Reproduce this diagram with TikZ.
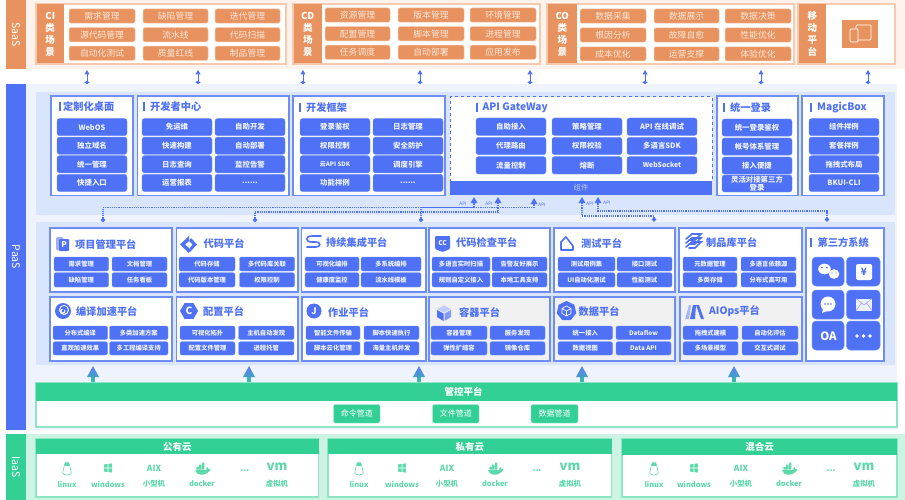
\documentclass[tikz,border=0pt]{standalone}
\usepackage{fontspec}
\setmainfont{Noto Sans CJK SC}
\usetikzlibrary{arrows.meta,shapes.geometric,calc}
\definecolor{org}{HTML}{E8935F}
\definecolor{orgl}{HTML}{F7C9AE}
\definecolor{orgbg}{HTML}{FDF2EC}
\definecolor{blu}{HTML}{4F71F5}
\definecolor{blul}{HTML}{6E8EF5}
\definecolor{blubg}{HTML}{EFF3FD}
\definecolor{blupanel}{HTML}{D8E5FD}
\definecolor{grn}{HTML}{33D095}
\definecolor{grnl}{HTML}{8CE6C5}
\definecolor{grnbg}{HTML}{CDF3E3}
\definecolor{grntx}{HTML}{5ED9AB}
\definecolor{graycard}{HTML}{F1F1F1}
\definecolor{txw}{HTML}{FBE6D8}
\definecolor{txb}{HTML}{EEF2FF}
\newcounter{nid}
\newcommand{\sixdots}{{.}{.}{.}{.}{.}{.}}
\newcommand{\pl}[6]{\stepcounter{nid}\node[#1,minimum width={(#3-#2)*1pt},minimum height={(#5-#4)*1pt}] (n\arabic{nid}) at ({(#2+#3)/2},{(#4+#5)/2}) {#6};}
\newcommand{\tx}[4]{\stepcounter{nid}\node[#1] (n\arabic{nid}) at (#2,#3) {#4};}
\newcommand{\ttl}[4]{\fill[blu] (#1,#2-4.5) rectangle ++(2.2,9);\tx{ttlsty}{#1+#4}{#2}{#3}}
\newcommand{\ctl}[3]{\tx{ttlsty}{#1}{#2}{#3}}
\tikzset{
 opill/.style={fill=org,draw=orgl,line width=.5pt,rounded corners=2pt,inner sep=0pt,outer sep=0pt,text=txw,font=\fontsize{8.8}{10}\selectfont},
 bpill/.style={fill=blu,draw=blul,line width=.4pt,rounded corners=2.5pt,inner sep=0pt,outer sep=0pt,text=txb,font=\bfseries\fontsize{7.4}{8.2}\selectfont},
 spill/.style={fill=blu,draw=blul,line width=.4pt,rounded corners=2pt,inner sep=0pt,outer sep=0pt,text=txb,font=\bfseries\fontsize{6.3}{8}\selectfont},
 gpill/.style={fill=grn,draw=grnl,line width=.4pt,rounded corners=2pt,inner sep=0pt,outer sep=0pt,text=white,font=\fontsize{8}{9}\selectfont},
 ipill/.style={fill=blu,draw=blul,line width=.5pt,rounded corners=4pt,inner sep=0pt,outer sep=0pt},
 ocard/.style={fill=white,draw=orgl,line width=1.1pt,inner sep=0pt,outer sep=0pt},
 ohead/.style={fill=org,inner sep=0pt,outer sep=0pt,text=white,align=center,font=\bfseries\fontsize{9.5}{12}\selectfont},
 bcard/.style={fill=white,draw=blul,line width=1.1pt,inner sep=0pt,outer sep=0pt},
 gycard/.style={fill=graycard,draw=blul,line width=1.1pt,inner sep=0pt,outer sep=0pt},
 dcard/.style={fill=white,draw=blu,line width=1pt,dashed,inner sep=0pt,outer sep=0pt},
 barb/.style={fill=blu,inner sep=0pt,outer sep=0pt,text=txb!70!blu,font=\fontsize{7.5}{9}\selectfont},
 sidebar/.style={inner sep=0pt,outer sep=0pt,text=white,font=\fontsize{10.5}{12}\selectfont},
 ttlsty/.style={anchor=west,inner sep=0pt,text=blu,font=\bfseries\fontsize{10.2}{12}\selectfont},
 grect/.style={fill=white,draw=grnl,line width=1.1pt,inner sep=0pt,outer sep=0pt},
 ghead/.style={fill=grn,inner sep=0pt,outer sep=0pt,text=white,font=\bfseries\fontsize{9.5}{11}\selectfont},
 itxt/.style={inner sep=0pt,text=grntx,font=\bfseries\fontsize{7.4}{9}\selectfont},
 iic/.style={inner sep=0pt,text=grntx,font=\bfseries\fontsize{8.5}{9}\selectfont},
 dblarrow/.style={draw=blu,line width=1pt,{Circle[length=3.2pt,width=4.4pt]}-{Triangle[length=4.5pt,width=5pt]}},
 dotarrow/.style={draw=blu,line width=1.4pt,dash pattern=on 1.2pt off 1pt,{Circle[length=4.2pt,width=4.2pt]}-{Triangle[length=6pt,width=6.5pt]}},
 apil/.style={inner sep=0pt,text=blu,font=\fontsize{4.6}{5}\selectfont},
}
\newcommand{\lnx}[1]{\filldraw[fill=white,draw=grntx,line width=.6pt] (#1,462) .. controls (#1+3,462) and (#1+2.5,467) .. (#1+4,471) .. controls (#1+6.5,476.5) and (#1-6.5,476.5) .. (#1-4,471) .. controls (#1-2.5,467) and (#1-3,462) .. cycle;\fill[grntx] (#1-1.6,462.5) rectangle (#1+1.6,465.5);}
\newcommand{\wnd}[1]{\fill[grntx] (#1-3.8,464.5) -- (#1-.4,464) -- (#1-.4,467.6) -- (#1-3.8,467.6) -- cycle (#1+.4,463.9) -- (#1+3.8,463.4) -- (#1+3.8,467.6) -- (#1+.4,467.6) -- cycle (#1-3.8,468.4) -- (#1-.4,468.4) -- (#1-.4,472) -- (#1-3.8,471.5) -- cycle (#1+.4,468.4) -- (#1+3.8,468.4) -- (#1+3.8,472.6) -- (#1+.4,472.1) -- cycle;}
\newcommand{\dck}[1]{\fill[grntx] (#1-7,470) .. controls (#1-6,476) and (#1+3,476.5) .. (#1+8,470.5) .. controls (#1+9,470) and (#1+8.5,468.5) .. (#1+6.5,468.9) .. controls (#1+6,467.5) and (#1+5.5,467) .. (#1+4.8,467.1) -- (#1+4.2,470) -- cycle;\fill[grntx] (#1-5.6,467.1) rectangle ++(2.4,2.4) (#1-2.8,467.1) rectangle ++(2.4,2.4) (#1,467.1) rectangle ++(2.4,2.4) (#1-2.8,464.5) rectangle ++(2.4,2.4) (#1,464.5) rectangle ++(2.4,2.4) (#1,462.5) rectangle ++(2.4,1.8);}
\newcommand{\cloud}[6]{%
 \lnx{#1}\wnd{#2}\dck{#4}
 \tx{itxt}{#1}{484}{linux}\tx{itxt}{#2}{484}{windows}
 \tx{iic}{#3}{468.5}{AIX}\tx{itxt}{#3}{484}{小型机}
 \tx{itxt}{#4}{484}{docker}
 \tx{iic}{#5}{471}{...}
 \tx{iic}{#6}{467}{\fontsize{13}{13}\selectfont vm}\tx{itxt}{#6}{484}{虚拟机}}
\newcommand{\frow}[8]{\pl{spill}{#1}{#2}{257}{271}{#5}\pl{spill}{#3}{#4}{257}{271}{#6}\pl{spill}{#1}{#2}{272.7}{287}{#7}\pl{spill}{#3}{#4}{272.7}{287}{#8}}
\newcommand{\srow}[8]{\pl{spill}{#1}{#2}{326}{339.5}{#5}\pl{spill}{#3}{#4}{326}{339.5}{#6}\pl{spill}{#1}{#2}{341.7}{355}{#7}\pl{spill}{#3}{#4}{341.7}{355}{#8}}
\begin{document}
\begin{tikzpicture}[x=1pt,y=-1pt]
\useasboundingbox (0,0) rectangle (905,500);
\fill[white] (0,0) rectangle (905,500);
%% bands
\fill[orgbg] (26,0) rectangle (905,69);
\fill[blubg] (26,84) rectangle (897,430);
\fill[grnbg] (26,434) rectangle (905,500);
\pl{sidebar,fill=org}{6}{26}{0}{69}{\rotatebox{-90}{SaaS}}
\pl{sidebar,fill=blu}{6}{26}{84}{430}{\rotatebox{-90}{PaaS}}
\pl{sidebar,fill=grn}{6}{26}{434}{500}{\rotatebox{-90}{IaaS}}
\fill[blupanel] (36,92) rectangle (895,215);
\fill[blupanel] (36,222) rectangle (895,365);
%% SaaS cards
\pl{ocard}{36}{286}{4}{64}{}
\pl{ohead}{36.5}{64}{4.5}{63.5}{CI\\类\\场\\景}
\foreach \a/\b/\c [count=\i] in {需求管理/缺陷管理/迭代管理,源代码管理/流水线/代码扫描,自动化测试/质量红线/制品管理}{
 \pgfmathsetmacro\yy{9+(\i-1)*18.6}
 \pl{opill}{69}{135}{\yy}{\yy+14.2}{\a}\pl{opill}{143}{208}{\yy}{\yy+14.2}{\b}\pl{opill}{215}{280}{\yy}{\yy+14.2}{\c}}
\pl{ocard}{293}{540}{4}{64}{}
\pl{ohead}{293.5}{322}{4.5}{63.5}{CD\\类\\场\\景}
\foreach \a/\b/\c [count=\i] in {资源管理/版本管理/环境管理,配置管理/脚本管理/进程管理,任务调度/自动部署/应用发布}{
 \pgfmathsetmacro\yy{8+(\i-1)*18.6}
 \pl{opill}{325}{390}{\yy}{\yy+14.2}{\a}\pl{opill}{398}{464}{\yy}{\yy+14.2}{\b}\pl{opill}{470}{536}{\yy}{\yy+14.2}{\c}}
\pl{ocard}{547}{794}{4}{64}{}
\pl{ohead}{547.5}{577}{4.5}{63.5}{CO\\类\\场\\景}
\foreach \a/\b/\c [count=\i] in {数据采集/数据展示/数据决策,根因分析/故障自愈/性能优化,成本优化/运营支撑/体验优化}{
 \pgfmathsetmacro\yy{9+(\i-1)*18.9}
 \pl{opill}{580}{646}{\yy}{\yy+14.2}{\a}\pl{opill}{654}{719}{\yy}{\yy+14.2}{\b}\pl{opill}{725}{791}{\yy}{\yy+14.2}{\c}}
\pl{ocard}{798}{895}{4}{64}{}
\pl{ohead}{798.5}{826}{4.5}{63.5}{移\\动\\平\\台}
\pl{fill=org,inner sep=0pt}{842}{878}{20}{48}{}
\draw[white,line width=.7pt,rounded corners=1pt] (856,25) rectangle (871,40);
\filldraw[fill=org,draw=white,line width=.7pt,rounded corners=1pt] (850,29) rectangle (858,42);
%% SaaS to PaaS arrows
\foreach \x [count=\i] in {87,198,303,420,530,645,761,868}{
 \coordinate (st\i) at (\x,70); \coordinate (sb\i) at (\x,84);
 \draw[dblarrow] (sb\i) -- (st\i);}
%% Upper cards
\pl{bcard}{51}{133}{96}{195.5}{}
\ttl{58.5}{107}{定制化桌面}{4.5}
\foreach \t [count=\i] in {WebOS,独立域名,统一管理,快捷入口}{
 \pgfmathsetmacro\yy{118.5+(\i-1)*18.6}
 \pl{bpill}{57}{127}{\yy}{\yy+17.2}{\t}}
\pl{bcard}{137.5}{289}{96}{195.5}{}
\ttl{143}{107}{开发者中心}{7}
\foreach \a/\b [count=\i] in {免运维/自助开发,快速构建/自动部署,日志查询/监控告警,运营报表/\sixdots}{
 \pgfmathsetmacro\yy{118.5+(\i-1)*18.6}
 \pl{bpill}{142}{212}{\yy}{\yy+17.2}{\a}\pl{bpill}{215}{285}{\yy}{\yy+17.2}{\b}}
\pl{bcard}{293}{445}{96}{195.5}{}
\ttl{299}{107.5}{开发框架}{7}
\foreach \a/\b [count=\i] in {登录鉴权/日志管理,权限控制/安全防护,{\fontsize{6}{7}\selectfont 云API SDK}/调度引擎,功能样例/\sixdots}{
 \pgfmathsetmacro\yy{118.5+(\i-1)*18.6}
 \pl{bpill}{300}{370}{\yy}{\yy+17.2}{\a}\pl{bpill}{373}{443}{\yy}{\yy+17.2}{\b}}
\pl{dcard}{450}{712}{97}{181}{}
\pl{barb}{450}{712}{181}{195}{组件}
\ttl{475.5}{107.5}{API GateWay}{7}
\foreach \a/\b/\c [count=\i] in {自助接入/策略管理/API 在线调试,代理路由/权限校验/多语言SDK,流量控制/熔断/{\fontsize{6.8}{8}\selectfont WebSocket}}{
 \pgfmathsetmacro\yy{118+(\i-1)*19.3}
 \pl{bpill}{476}{546}{\yy}{\yy+17.4}{\a}\pl{bpill}{552}{622}{\yy}{\yy+17.4}{\b}\pl{bpill}{627}{697}{\yy}{\yy+17.4}{\c}}
\pl{bcard}{717}{798}{96}{195.5}{}
\ttl{722.5}{107.5}{统一登录}{7.5}
\foreach \t [count=\i] in {统一登录鉴权,帐号体系管理,接入便捷}{
 \pgfmathsetmacro\yy{119+(\i-1)*19}
 \pl{bpill}{722}{792}{\yy}{\yy+17.2}{\t}}
\pl{bpill,align=center}{722}{792}{175}{192}{灵活对接第三方\\登录}
\pl{bcard}{802}{884}{96}{195.5}{}
\ttl{809.5}{107.5}{MagicBox}{7.5}
\foreach \t [count=\i] in {组件样例,套餐样例,拖拽式布局,BKUI-CLI}{
 \pgfmathsetmacro\yy{118.5+(\i-1)*18.6}
 \pl{bpill}{809}{879}{\yy}{\yy+17.2}{\t}}
%% Lower cards
\pl{bcard}{50}{172}{228}{292}{}
\pl{bcard}{176.5}{298}{228}{292}{}
\pl{bcard}{301.5}{426}{228}{292}{}
\pl{bcard}{429}{550}{228}{292}{}
\pl{bcard}{554}{675}{228}{292}{}
\pl{bcard}{679}{802}{228}{292}{}
\pl{bcard}{50}{172}{297}{361}{}
\pl{bcard}{176.5}{298}{297}{361}{}
\pl{bcard}{302}{426}{297}{361}{}
\pl{gycard}{429}{550}{297}{361}{}
\pl{gycard}{554}{675}{297}{361}{}
\pl{gycard}{680}{802}{297}{361}{}
\pl{bcard}{806}{884}{228}{361}{}
\ctl{75}{244.5}{项目管理平台}
\ctl{203.5}{243.5}{代码平台}
\ctl{326}{242.5}{持续集成平台}
\ctl{456}{242.5}{代码检查平台}
\ctl{581}{244}{测试平台}
\ctl{706}{242.5}{制品库平台}
\ctl{76}{311.5}{编译加速平台}
\ctl{203}{311.5}{配置平台}
\ctl{328}{312}{作业平台}
\ctl{459}{312}{容器平台}
\ctl{578.5}{311.5}{数据平台}
\ctl{709}{311.5}{AIOps平台}
\fill[blu] (810,238) rectangle ++(2.2,9);
\ctl{817.5}{243}{第三方系统}
\frow{54}{108.5}{112}{167}{需求管理}{文档管理}{缺陷管理}{任务看板}
\frow{179}{235}{239.5}{294.5}{代码存储}{多代码库关联}{代码版本管理}{权限控制}
\frow{305}{359}{361}{421}{可视化编排}{多系统编排}{健康度监控}{流水线模板}
\frow{432}{490}{492}{547}{多语言实时扫描}{告警友好展示}{规则自定义接入}{本地工具支持}
\frow{558}{615}{617}{672}{测试用例集}{接口测试}{UI自动化测试}{性能测试}
\frow{683}{737}{741}{796}{元数据管理}{多语言依赖源}{多类存储}{分布式高可用}
\srow{53}{107.5}{109.5}{168}{分布式编译}{多类加速方案}{直观加速效果}{多工程编译支持}
\srow{180}{235}{238.5}{294}{可视化拓扑}{主机自动发现}{配置文件管理}{进程托管}
\srow{306}{360}{364}{419}{智能文件传输}{脚本快速执行}{脚本云化管理}{海量主机并发}
\srow{431}{487}{490}{545}{容器管理}{服务发现}{弹性扩缩容}{镜像仓库}
\srow{558}{612.5}{616}{671}{统一接入}{Dataflow}{数据视图}{Data API}
\srow{683}{738}{742}{798}{拖拽式建模}{自动化评估}{多场景模型}{交互式调试}
%% Lower icons
\fill[blu!55!white,rounded corners=1pt] (56,237) rectangle (63,250);
\fill[blu,rounded corners=1pt] (59,239) rectangle (69,251);
\tx{inner sep=0pt,text=white,font=\bfseries\fontsize{8}{8}\selectfont}{64}{245}{P}
\fill[blu] (180,244.5) -- (189,236) -- (189,241) -- (185,244.5) -- (189,248) -- (189,253) -- cycle;
\fill[blu] (197,244.5) -- (191,238) -- (189,241) -- (192.5,244.5) -- (187,252) -- (190,252) -- cycle;
\draw[blu,line width=1.6pt,line cap=round] (321,236) -- (312,236) .. controls (305,236) and (305,242) .. (312,242) -- (316,242) .. controls (321,242) and (321,247) .. (316,247) -- (307,247);
\fill[blu,rounded corners=1pt] (435,236) -- (450,236) -- (450,249) -- (442.5,252) -- (435,249) -- cycle;
\tx{inner sep=0pt,text=white,font=\bfseries\fontsize{6.5}{7}\selectfont}{442.5}{243}{CC}
\draw[blu,line width=1.6pt,line join=round] (561,250) -- (561,242) -- (566,237) -- (573,246) -- (573,250) -- cycle;
\foreach \d in {0,4,8}\draw[blu,line width=1.6pt,line cap=round] (686,243+\d-4) -- (692,238+\d-4) -- (701,238+\d-4) -- (695,244+\d-4) -- (689,244+\d-4);
\fill[blu] (63,311) circle (8);
\draw[white,line width=.9pt] (63,311) circle (2) (64,310) circle (4.5);
\fill[blu] (64,308) circle (2);
\node[regular polygon,regular polygon sides=6,fill=blu,minimum size=18pt,inner sep=0pt] (hexc) at (189,311) {};
\tx{inner sep=0pt,text=white,font=\bfseries\fontsize{10}{10}\selectfont}{189}{311}{C}
\fill[blu] (314,311) circle (7.5);
\tx{inner sep=0pt,text=white,font=\bfseries\fontsize{9}{9}\selectfont}{314}{311}{J}
\fill[blu!35!white] (444,305.5) -- (451,309) -- (444,312.5) -- (437,309) -- cycle;
\fill[blu] (437,310) -- (443.5,313.5) -- (443.5,321) -- (437,317) -- cycle;
\fill[blu!70!white] (451,310) -- (444.5,313.5) -- (444.5,321) -- (451,317) -- cycle;
\node[regular polygon,regular polygon sides=7,fill=blu,minimum size=20pt,inner sep=0pt] (hepd) at (566.5,311) {};
\draw[white,line width=.6pt,line join=round] (566.5,306) -- (571,308.5) -- (571,313.5) -- (566.5,316) -- (562,313.5) -- (562,308.5) -- cycle (562,308.5) -- (566.5,311) -- (571,308.5) (566.5,311) -- (566.5,316);
\fill[blu!50!white] (685,319) -- (689,305) -- (691,305) -- (689,319) -- cycle;
\fill[blu] (690,319) -- (693,305) -- (696,305) -- (695,319) -- cycle;
\fill[blu] (696,305) -- (699,305) -- (704,319) -- (701,319) -- cycle;
%% Third party
\pl{ipill}{812}{844}{257}{286}{}
\pl{ipill}{846.5}{880}{257}{286}{}
\pl{ipill}{812}{844}{290}{319}{}
\pl{ipill}{846.5}{880}{290}{319}{}
\pl{ipill}{812}{844}{321}{350}{}
\pl{ipill}{846.5}{880}{321}{350}{}
\fill[white] (823,275) -- (821,278) -- (826,275) -- cycle;
\fill[blu] (825,273) ellipse (6.5 and 6.2);
\fill[white] (824.5,269) ellipse (6.3 and 5.3);
\fill[white] (834,274) ellipse (5.3 and 4.8);
\fill[blu] (822,267.5) circle (.8) (827,267.5) circle (.8) (832,273) circle (.7) (836,273) circle (.7);
\fill[white,rounded corners=1.5pt] (856,264) rectangle (872,280);
\tx{inner sep=0pt,text=blu,font=\bfseries\fontsize{10}{10}\selectfont}{864}{272}{¥}
\fill[white] (828,304) circle (7.5);\fill[white] (823,309) -- (822,313) -- (827,311) -- cycle;
\fill[blu] (825,304) circle (.8) (828,304) circle (.8) (831,304) circle (.8);
\fill[white,opacity=.9] (856,298.5) rectangle (872,310.5);
\draw[blu!60!white,line width=.6pt] (856,298.5) -- (864,305) -- (872,298.5) (856,310.5) -- (861.5,303) (872,310.5) -- (866.5,303);
\tx{inner sep=0pt,text=white,font=\bfseries\fontsize{11.5}{12}\selectfont}{828.5}{336}{OA}
\fill[white] (857,336) circle (1.8) (863.5,336) circle (1.8) (870,336) circle (1.8);
%% dotted connectors
\coordinate (d1) at (103,222); \coordinate (u1) at (474,197); \coordinate (h1) at (0,207.5);
\coordinate (d2) at (255,222); \coordinate (u2) at (498,197); \coordinate (h2) at (0,212);
\coordinate (d3) at (421,222); \coordinate (u3) at (534,198); \coordinate (h3) at (0,207.5);
\coordinate (d4) at (654,221.5); \coordinate (u4) at (582,197); \coordinate (h4) at (0,216);
\coordinate (d5) at (827,221.5); \coordinate (u5) at (598,197); \coordinate (h5) at (0,211);
\foreach \i in {1,...,5}
 \draw[dotarrow] (d\i) -- (d\i|-h\i) -- (u\i|-h\i) -- (u\i);
\foreach \x/\y in {463/203.5,489/204,542/205,590/204,607/203}{\tx{apil}{\x}{\y}{API}}
%% green to panel arrows
\foreach \x [count=\i] in {93,249,419,582,734}{
 \coordinate (gb\i) at (\x,383); \coordinate (gt\i) at (\x,366);
 \fill[grn!70!blu] ($(gb\i)+(-2,0)$) rectangle ($(gb\i)+(2,-7)$);
 \shade[top color=blu!90!white,bottom color=grn!50!blu] (gt\i) -- ($(gt\i)+(6,11)$) -- ($(gt\i)+(-6,11)$) -- cycle;}
%% management platform
\pl{grect}{36}{897}{383}{427}{}
\pl{ghead}{36}{897}{383}{401}{\hspace*{-6pt}管控平台}
\pl{gpill}{333.5}{380}{404.5}{423}{命令管道}
\pl{gpill}{432.5}{479}{404.5}{423}{文件管道}
\pl{gpill}{531}{578}{404.5}{423}{数据管道}
%% IaaS clouds
\pl{grect}{36}{318.5}{439}{497}{}
\pl{ghead}{36}{318.5}{439}{454}{公有云}
\pl{grect}{328}{611.5}{439}{497}{}
\pl{ghead}{328}{611.5}{439}{454}{私有云}
\pl{grect}{622}{897}{439}{497}{}
\pl{ghead}{622}{897}{439}{455}{混合云}
\cloud{67}{108}{154}{202}{245}{277}
\cloud{359}{402}{447}{495}{537}{570}
\cloud{654}{694}{741}{789}{831}{864}
\end{tikzpicture}
\end{document}
